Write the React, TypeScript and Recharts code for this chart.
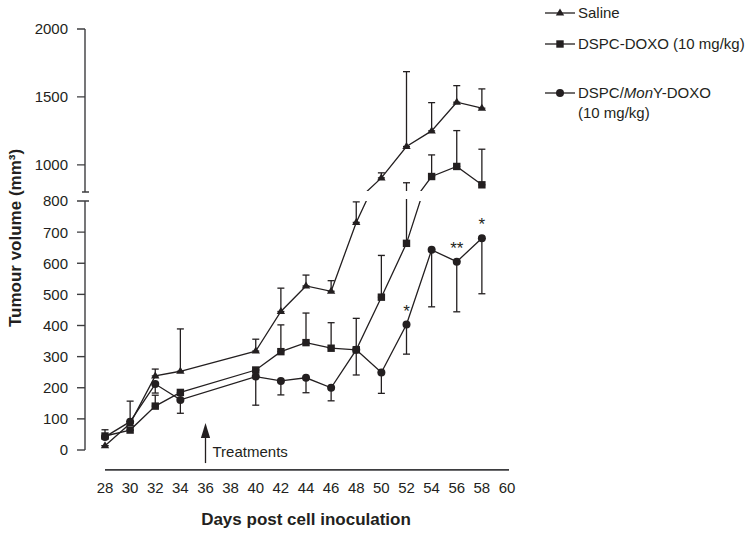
import React from "react";
import {
  LineChart, Line, XAxis, YAxis, ErrorBar, Legend, ReferenceLine, LabelList, Label,
} from "recharts";

// ── Data ──────────────────────────────────────────────────────────────────────

const days = [28, 30, 32, 34, 40, 42, 44, 46, 48, 50, 52, 54, 56, 58];

const saline = [14, 85, 238, 253, 318, 445, 527, 510, 731, 904, 1135, 1250, 1461, 1417];
const salineSem = [0, 72, 22, 136, 38, 75, 35, 34, 66, 37, 551, 208, 122, 142];

const dspcDoxo = [45, 64, 141, 185, 257, 316, 345, 327, 322, 491, 664, 914, 988, 853];
const dspcDoxoSem = [20, 0, 35, 0, 0, 86, 95, 82, 101, 134, 204, 159, 264, 262];

const monyDoxo = [42, 91, 212, 161, 236, 222, 232, 200, 322, 249, 403, 643, 605, 680];
const monyDoxoSem = [0, 0, 29, 43, 92, 45, 48, 42, 81, 67, 95, 183, 161, 178];
const monyStars = ["", "", "", "", "", "", "", "", "", "", "*", "", "**", "*"];

const dayTicks = [28, 30, 32, 34, 36, 38, 40, 42, 44, 46, 48, 50, 52, 54, 56, 58, 60];
const lowerTicks = [0, 100, 200, 300, 400, 500, 600, 700, 800];
const upperTicks = [800, 1000, 1500, 2000];

const treatmentDay = 36;

const rows = days.map((day, i) => ({
  day,
  saline: saline[i],
  salineErr: [0, salineSem[i]],
  dspc: dspcDoxo[i],
  dspcErr: [0, dspcDoxoSem[i]],
  mony: monyDoxo[i],
  monyErr: [monyDoxoSem[i], 0],
  star: monyStars[i],
}));

// ── Styling ───────────────────────────────────────────────────────────────────

const W = 751;
const H = 536;
const INK = "#231f20";
const AXIS = "#3d3d3f";
const FONT = "'Liberation Sans', Arial, Helvetica, sans-serif";
const AXIS_X = 85;

// ── Markers ───────────────────────────────────────────────────────────────────

function Tri({ cx, cy }: { cx: number; cy: number }) {
  return <polygon points={`${cx},${cy - 4.5} ${cx - 4.2},${cy + 2.6} ${cx + 4.2},${cy + 2.6}`} fill={INK} />;
}
function Sq({ cx, cy }: { cx: number; cy: number }) {
  return <rect x={cx - 3.7} y={cy - 3.7} width={7.4} height={7.4} fill={INK} />;
}
function Dot({ cx, cy }: { cx: number; cy: number }) {
  return <circle cx={cx} cy={cy} r={4} fill={INK} />;
}

const dotFn = (M: typeof Tri) => (p: any) =>
  p.cx == null || p.cy == null ? <g key={p.index} /> : <M key={p.index} cx={p.cx} cy={p.cy} />;

// ── Axis ticks with the break marks ───────────────────────────────────────────

function makeTick(lower: boolean) {
  return (p: any) => {
    const v = p.payload.value;
    const y = p.y;
    if (!lower && v === 800) {
      return <line key={v} x1={AXIS_X - 3} x2={AXIS_X + 4} y1={y} y2={y} stroke={AXIS} strokeWidth={1.4} />;
    }
    return (
      <g key={v}>
        <line x1={AXIS_X - 8} x2={v === 800 ? AXIS_X + 4 : AXIS_X} y1={y} y2={y} stroke={AXIS} strokeWidth={1.4} />
        <text x={AXIS_X - 17} y={y} dy="0.36em" textAnchor="end" fontSize={15} fontFamily={FONT} fill={INK}>
          {v}
        </text>
      </g>
    );
  };
}

function TreatmentArrow(p: any) {
  const x = p.x1;
  const top = Math.min(p.y1, p.y2);
  const bottom = Math.max(p.y1, p.y2);
  return (
    <g>
      <line x1={x} x2={x} y1={bottom} y2={top + 13} stroke={INK} strokeWidth={1.3} />
      <polygon points={`${x},${top} ${x - 4.6},${top + 15} ${x + 4.6},${top + 15}`} fill={INK} />
      <text x={x + 7} y={bottom - 6} fontSize={15} fontFamily={FONT} fill={INK}>Treatments</text>
    </g>
  );
}

// ── Legend ────────────────────────────────────────────────────────────────────

function LegendIcon({ M }: { M: typeof Tri }) {
  return (
    <svg width={32} height={20} style={{ position: "absolute", left: 0, top: 0 }}>
      <line x1={0} x2={30} y1={10} y2={10} stroke={INK} strokeWidth={1.3} />
      <M cx={15} cy={10} />
    </svg>
  );
}

function LegendBox() {
  const row = (top: number): React.CSSProperties => ({
    position: "absolute", left: 0, top, width: 210, lineHeight: "20px",
  });
  const text: React.CSSProperties = { position: "absolute", left: 33, top: 0, whiteSpace: "nowrap" };
  return (
    <div style={{ position: "relative", width: 206, height: 130, fontFamily: FONT, fontSize: 15, color: INK }}>
      <div style={row(3)}>
        <LegendIcon M={Tri} />
        <span style={text}>Saline</span>
      </div>
      <div style={row(34)}>
        <LegendIcon M={Sq} />
        <span style={text}>DSPC-DOXO (10 mg/kg)</span>
      </div>
      <div style={row(83)}>
        <LegendIcon M={Dot} />
        <span style={text}>
          DSPC/<i>Mon</i>Y-DOXO<br />(10 mg/kg)
        </span>
      </div>
    </div>
  );
}

// ── One panel of the broken axis ──────────────────────────────────────────────

// each panel is cut off at the break so error bars don't spill into the other half
const lowerClip = "polygon(0px 0px, 90px 0px, 90px 199px, 751px 199px, 751px 536px, 0px 536px)";
const upperClip = "polygon(0px 0px, 751px 0px, 751px 191px, 90px 191px, 90px 536px, 0px 536px)";

function Panel({ lower }: { lower: boolean }) {
  const margin = lower
    ? { top: 201, bottom: 26, left: 25, right: 242 }
    : { top: 29, bottom: 344, left: 25, right: 242 };
  return (
    <div style={{ position: "absolute", left: 0, top: 0, width: W, height: H, clipPath: lower ? lowerClip : upperClip }}>
      <LineChart width={W} height={H} data={rows} margin={margin}>
        <XAxis
          dataKey="day"
          type="number"
          domain={[28, 60]}
          ticks={dayTicks}
          interval={0}
          padding={{ left: 20, right: 2 }}
          hide={!lower}
          height={60}
          axisLine={false}
          tickLine={false}
          tickSize={0}
          tickMargin={32}
          tick={{ fontSize: 15, fill: INK, fontFamily: FONT }}
        >
          {lower && (
            <Label
              content={() => (
                <text x={306} y={525} textAnchor="middle" fontSize={17} fontWeight="bold" fontFamily={FONT} fill={INK}>
                  Days post cell inoculation
                </text>
              )}
            />
          )}
        </XAxis>
        <YAxis
          type="number"
          domain={lower ? [0, 800] : [800, 2000]}
          ticks={lower ? lowerTicks : upperTicks}
          interval={0}
          allowDataOverflow
          width={60}
          axisLine={{ stroke: AXIS, strokeWidth: 1.4 }}
          tickLine={false}
          tickSize={8}
          tickMargin={9}
          tick={makeTick(lower)}
        >
          {lower && (
            <Label
              content={() => (
                <text
                  x={21}
                  y={238}
                  transform="rotate(-90, 21, 238)"
                  textAnchor="middle"
                  fontSize={17}
                  fontWeight="bold"
                  fontFamily={FONT}
                  fill={INK}
                >
                  Tumour volume (mm³)
                </text>
              )}
            />
          )}
        </YAxis>

        <Line dataKey="saline" name="Saline" stroke={INK} strokeWidth={1.3} dot={dotFn(Tri)} activeDot={false} isAnimationActive={false}>
          <ErrorBar dataKey="salineErr" direction="y" width={3.5} stroke={INK} strokeWidth={1.3} />
        </Line>
        <Line dataKey="dspc" name="DSPC-DOXO (10 mg/kg)" stroke={INK} strokeWidth={1.3} dot={dotFn(Sq)} activeDot={false} isAnimationActive={false}>
          <ErrorBar dataKey="dspcErr" direction="y" width={3.5} stroke={INK} strokeWidth={1.3} />
        </Line>
        <Line dataKey="mony" name="DSPC/MonY-DOXO (10 mg/kg)" stroke={INK} strokeWidth={1.3} dot={dotFn(Dot)} activeDot={false} isAnimationActive={false}>
          <ErrorBar dataKey="monyErr" direction="y" width={3.5} stroke={INK} strokeWidth={1.3} />
          {lower && <LabelList dataKey="star" position="top" offset={8} fontSize={17} fontFamily={FONT} fill={INK} />}
        </Line>

        {lower && (
          <ReferenceLine
            segment={[{ x: 28, y: -64 }, { x: 60.16, y: -64 }]}
            ifOverflow="visible"
            stroke={AXIS}
            strokeWidth={1.6}
          />
        )}
        {lower && (
          <ReferenceLine
            segment={[{ x: treatmentDay, y: -42 }, { x: treatmentDay, y: 87 }]}
            ifOverflow="visible"
            shape={TreatmentArrow}
          />
        )}
        {!lower && (
          <Legend
            layout="vertical"
            align="center"
            verticalAlign="middle"
            wrapperStyle={{ left: 545, top: 0, width: 206 }}
            content={() => <LegendBox />}
          />
        )}
      </LineChart>
    </div>
  );
}

export default function App() {
  return (
    <div style={{ position: "absolute", left: 0, top: 0, width: W, height: H, background: "#fff" }}>
      <Panel lower />
      <Panel lower={false} />
    </div>
  );
}
